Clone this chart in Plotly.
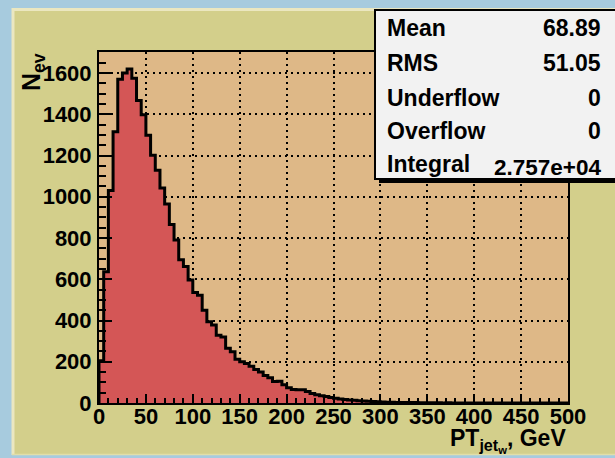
import plotly.graph_objects as go

# ---- data: 100 bins of 5 GeV, 0..500 ----
bin_width = 5.0
counts = [
    205, 636, 1030, 1315, 1570, 1600, 1620, 1575, 1467, 1398,
    1298, 1201, 1128, 1043, 965, 865, 790, 695, 662, 596,
    536, 523, 450, 394, 378, 329, 320, 265, 249, 212,
    200, 192, 178, 162, 150, 133, 122, 104, 106, 88,
    74, 66, 64, 64, 56, 46, 40, 35, 31, 27,
    23, 20, 17, 15, 13, 11, 10, 8, 7, 6,
    5, 4, 4, 3, 3, 2, 2, 2, 1, 1,
    1, 1, 1, 0, 1, 0, 0, 0, 0, 0,
    0, 0, 0, 0, 0, 0, 0, 0, 0, 0,
    0, 0, 0, 0, 0, 0, 0, 0, 0, 0,
]
x_ticks = [0, 50, 100, 150, 200, 250, 300, 350, 400, 450, 500]
y_ticks = [0, 200, 400, 600, 800, 1000, 1200, 1400, 1600]
stat_labels = ["Mean", "RMS", "Underflow", "Overflow", "Integral"]
stat_values = ["68.89", "51.05", "0", "0", "2.757e+04"]

# ---- layout geometry (pixels) ----
WIDTH, HEIGHT = 615, 458
L, R, T, B = 99, 568, 52, 403
PW, PH = R - L, B - T


def px(x):
    return (x - L) / PW


def py(y):
    return (B - y) / PH


FONT = "Liberation Sans"
KHAKI = "#d3cf8b"
FRAME_BG = "#deb887"
RED = "#d45656"
BLUE = "#a7cbde"

edges = [i * bin_width for i in range(len(counts) + 1)]
step_x = [edges[0]] + edges
step_y = [0] + counts + [counts[-1]]

fig = go.Figure()
fig.add_trace(go.Scatter(
    x=step_x, y=step_y, mode="lines", line=dict(shape="hv", color="black", width=3),
    fill="tozeroy", fillcolor=RED, hoverinfo="skip", showlegend=False,
))

shapes = [
    # outer blue strips
    dict(type="rect", xref="paper", yref="paper", x0=px(-5), x1=px(620), y0=py(8), y1=py(-5),
         fillcolor=BLUE, line=dict(width=0), layer="below"),
    dict(type="rect", xref="paper", yref="paper", x0=px(-5), x1=px(12), y0=py(465), y1=py(-5),
         fillcolor=BLUE, line=dict(width=0), layer="below"),
    dict(type="rect", xref="paper", yref="paper", x0=px(-5), x1=px(620), y0=py(465), y1=py(455),
         fillcolor=BLUE, line=dict(width=0), layer="below"),
    # cream edges of canvas
    dict(type="line", xref="paper", yref="paper", x0=px(13), x1=px(13), y0=py(455), y1=py(8),
         line=dict(color="#ebe7c0", width=3), layer="below"),
    dict(type="line", xref="paper", yref="paper", x0=px(12), x1=px(620), y0=py(9.5), y1=py(9.5),
         line=dict(color="#ebe7c0", width=3), layer="below"),
    dict(type="line", xref="paper", yref="paper", x0=px(12), x1=px(620), y0=py(454.5), y1=py(454.5),
         line=dict(color="#e2dea8", width=1.5), layer="below"),
    # stats box shadow + box
    dict(type="rect", xref="paper", yref="paper", x0=px(379), x1=px(625), y0=py(183), y1=py(14),
         fillcolor="black", line=dict(width=0), layer="above"),
    dict(type="rect", xref="paper", yref="paper", x0=px(375), x1=px(625), y0=py(179), y1=py(10),
         fillcolor="#f2f2f2", line=dict(color="black", width=2), layer="above"),
]

annotations = []
rows_y = [28, 63, 98, 131, 164]
for lab, val, yy in zip(stat_labels, stat_values, rows_y):
    annotations.append(dict(
        xref="paper", yref="paper", x=px(385), y=py(yy), xanchor="left", yanchor="middle",
        text=lab, showarrow=False, font=dict(family=FONT, size=23, color="black", weight="bold")))
    annotations.append(dict(
        xref="paper", yref="paper", x=px(603), y=py(yy + (3 if lab == "Integral" else 0)),
        xanchor="right", yanchor="middle",
        text=val, showarrow=False, font=dict(family=FONT, size=23 if lab != "Integral" else 22.5,
                                              color="black", weight="bold")))

# axis titles
annotations.append(dict(
    xref="paper", yref="paper", x=px(568), y=py(423), xanchor="right", yanchor="top",
    text="PT<sub>jet<sub>w</sub></sub>, GeV", showarrow=False,
    font=dict(family=FONT, size=23, color="black", weight="bold")))
annotations.append(dict(
    xref="paper", yref="paper", x=px(33), y=py(51), xanchor="center", yanchor="top",
    text="N<sub>ev</sub>", textangle=-90, showarrow=False,
    font=dict(family=FONT, size=25, color="black", weight="bold")))

axis_common = dict(
    showline=True, linecolor="black", linewidth=2, mirror=True,
    ticks="inside", tickcolor="black", tickwidth=2,
    showgrid=True, gridcolor="black", gridwidth=1.5, griddash="2px,4px",
    zeroline=False,
    tickfont=dict(family=FONT, size=22, color="black", weight="bold"),
)

fig.update_layout(
    width=WIDTH, height=HEIGHT,
    margin=dict(l=L, r=WIDTH - R, t=T, b=HEIGHT - B, pad=0),
    paper_bgcolor=KHAKI, plot_bgcolor=FRAME_BG,
    showlegend=False,
    shapes=shapes, annotations=annotations,
    xaxis=dict(range=[0, 500], tickvals=x_ticks, ticklen=9,
               minor=dict(dtick=10, ticklen=5, tickwidth=1.5, tickcolor="black", ticks="inside",
                          showgrid=False),
               ticklabelstandoff=-7, **axis_common),
    yaxis=dict(range=[0, 1702], tickvals=y_ticks, ticklen=13,
               minor=dict(dtick=50, ticklen=7, tickwidth=1.5, tickcolor="black", ticks="inside",
                          showgrid=False),
               ticklabelstandoff=1, **axis_common),
)

fig.write_html("out.html")
